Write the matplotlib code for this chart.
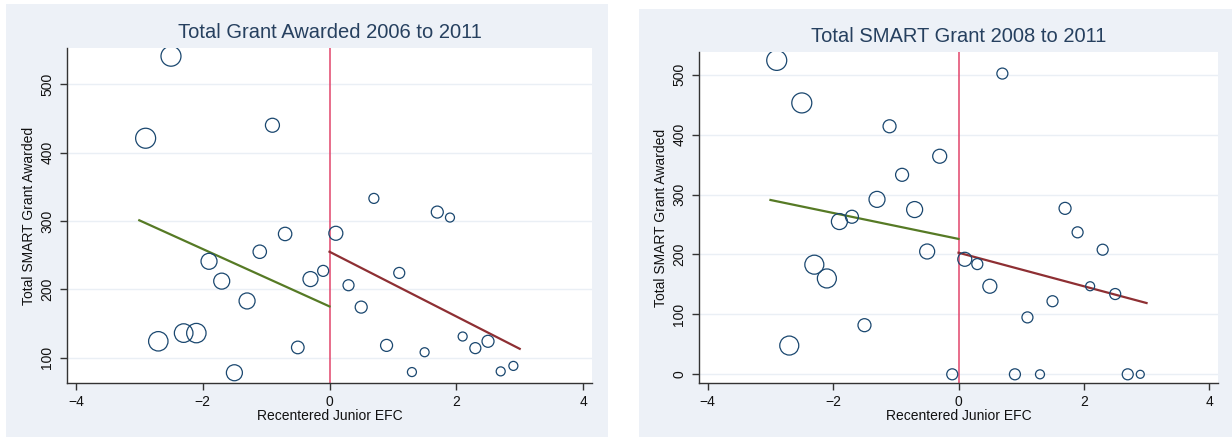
import numpy as np
import matplotlib
matplotlib.use("Agg")
import matplotlib.pyplot as plt
from matplotlib.patches import Rectangle

plt.rcParams['font.family'] = ['Liberation Sans', 'DejaVu Sans']

# bin midpoints of recentered junior EFC
efc_bins = [-2.9, -2.7, -2.5, -2.3, -2.1, -1.9, -1.7, -1.5, -1.3, -1.1, -0.9, -0.7, -0.5, -0.3, -0.1,
            0.1, 0.3, 0.5, 0.7, 0.9, 1.1, 1.3, 1.5, 1.7, 1.9, 2.1, 2.3, 2.5, 2.7, 2.9]

# total grant awarded 2006-2011, mean by bin, and bin weight (marker radius)
total_grant = [421, 124, 541, 136, 136, 241, 212, 78, 183, 255, 440, 281, 115, 215, 227,
               282, 206, 174, 333, 118, 224, 79, 108, 313, 305, 131, 114, 124, 80, 88]
total_weight = [10, 9.7, 10, 9.3, 9.7, 8, 8, 8, 8, 6.7, 7, 6.7, 6.3, 7.5, 5.5,
                7, 5.5, 6, 5, 6, 5.5, 4.5, 4.5, 6, 4.5, 4.5, 5.5, 6, 4.5, 4.5]

# SMART grant 2008-2011
smart_grant = [524, 48, 453, 183, 160, 255, 263, 82, 292, 414, 333, 275, 205, 364, 0,
               192, 184, 147, 502, 0, 95, 0, 122, 277, 237, 147, 208, 134, 0, 0]
smart_weight = [10, 9.5, 10, 9.5, 9.5, 8, 6.5, 6.5, 8, 6.5, 6.5, 8, 7.5, 7, 5.5,
                7, 5.5, 7, 5.5, 5.5, 5.5, 4.5, 5.5, 6, 5.5, 4.5, 5.5, 5.5, 5.5, 4]

# linear fits on each side of the cutoff: (x_start, y_start, x_end, y_end)
total_fit_left = [-3.0, 301, 0.0, 175]
total_fit_right = [0.0, 255, 3.0, 113]
smart_fit_left = [-3.0, 291, 0.0, 226]
smart_fit_right = [0.0, 203, 3.0, 119]

BG = '#edf1f7'
NAVY = '#1a476f'
W, H = 1232, 437

fig = plt.figure(figsize=(W / 100, H / 100), dpi=100)
fig.patches.append(Rectangle((6 / W, -0.01), 602 / W, 433 / H + 0.01, transform=fig.transFigure,
                             facecolor=BG, edgecolor='none', zorder=-10))
fig.patches.append(Rectangle((639 / W, -0.01), 593 / W, 428 / H + 0.01, transform=fig.transFigure,
                             facecolor=BG, edgecolor='none', zorder=-10))


def panel(rect, title, yvals, weights, fit_l, fit_r, ylim, yticks):
    ax = fig.add_axes(rect)
    sizes = (2 * np.array(weights) / 1.389) ** 2
    ax.scatter(efc_bins, yvals, s=sizes, facecolors='none', edgecolors=NAVY,
               linewidths=0.9, zorder=3)
    ax.plot([fit_l[0], fit_l[2]], [fit_l[1], fit_l[3]], color='#567a25', lw=1.6, zorder=2)
    ax.plot([fit_r[0], fit_r[2]], [fit_r[1], fit_r[3]], color='#8e2f33', lw=1.6, zorder=2)
    ax.axvline(0, color='#e2456b', lw=1.1, zorder=1)
    ax.set_xlim(-4.14, 4.14)
    ax.set_ylim(*ylim)
    ax.set_xticks([-4, -2, 0, 2, 4])
    ax.set_yticks(yticks)
    ax.set_yticklabels([str(t) for t in yticks], rotation=90, va='center')
    ax.grid(axis='y', color='#eaeff5', lw=1.0)
    ax.set_axisbelow(True)
    for s in ['top', 'right']:
        ax.spines[s].set_visible(False)
    for s in ['left', 'bottom']:
        ax.spines[s].set_color('#333333')
        ax.spines[s].set_linewidth(1.0)
    ax.tick_params(direction='out', length=5, width=1.0, color='#333333',
                   labelsize=10, labelcolor='#111111', pad=4)
    ax.set_xlabel('Recentered Junior EFC', fontsize=10, color='#111111', labelpad=0)
    ax.set_ylabel('Total SMART Grant Awarded', fontsize=10, color='#111111', labelpad=3)
    ax.set_title(title, fontsize=14.5, color='#26405f', pad=7)
    return ax


panel([67 / W, 54 / H, 525 / W, 335 / H], 'Total Grant Awarded 2006 to 2011',
      total_grant, total_weight, total_fit_left, total_fit_right,
      (63, 553), [100, 200, 300, 400, 500])
panel([699 / W, 54 / H, 519 / W, 331 / H], 'Total SMART Grant 2008 to 2011',
      smart_grant, smart_weight, smart_fit_left, smart_fit_right,
      (-14.5, 538), [0, 100, 200, 300, 400, 500])

fig.savefig('out.png', dpi=100)
